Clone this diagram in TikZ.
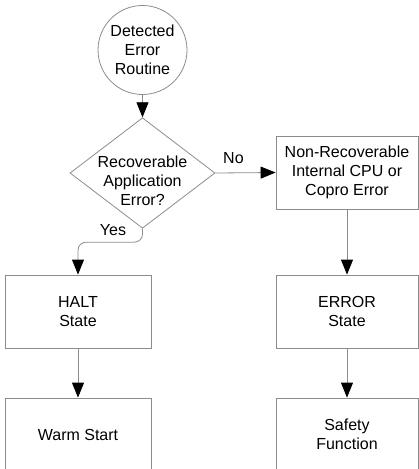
\documentclass[tikz,border=0pt]{standalone}
\usepackage{fontspec}
\setmainfont{Liberation Sans}
\usetikzlibrary{shapes.geometric,arrows.meta}
\definecolor{linegray}{HTML}{8C8C8C}
\begin{document}
\begin{tikzpicture}[
  x=1pt, y=-1pt,
  font=\fontsize{16}{19}\selectfont,
  every node/.style={align=center, inner sep=0pt},
  box/.style={draw=linegray, line width=0.8pt, minimum width=146pt, minimum height=73pt},
  arrow/.style={draw=linegray, line width=0.8pt, -{Triangle[length=15pt,width=12pt,black]}}
]
\useasboundingbox (0,0) rectangle (419,469);
\node (start) [circle, draw=linegray, line width=0.8pt, minimum size=89pt] at (142.5,50) {Detected\\Error\\Routine};
\node (decide) [diamond, draw=linegray, line width=0.8pt, minimum width=145pt, minimum height=110.5pt,
  label={[yshift=-8pt]center:Recoverable\\Application\\Error?}] at (142.5,173) {};
\node (nonrec) [box, minimum width=142pt] at (347,172.5) {Non-Recoverable\\Internal CPU or\\Copro Error};
\node (errst) [box, minimum width=142pt] at (347,311.5) {ERROR\\State};
\node (safety) [box, minimum width=142pt] at (347,434.5) {Safety\\Function};
\node (halt) [box] at (78,311.5) {HALT\\State};
\node (warm) [box] at (78,434.5) {Warm Start};
\draw[arrow] (start) -- (decide);
\draw[arrow] (decide.east) -- node[anchor=south, pos=0.3, yshift=9pt] {No} (nonrec.west);
\draw[arrow, rounded corners=8pt] (decide.south) -- node[anchor=east, xshift=-16pt, yshift=5pt] {Yes} ++(0,13.5) -| (halt.north);
\draw[arrow] (halt) -- (warm);
\draw[arrow] (nonrec) -- (errst);
\draw[arrow] (errst) -- (safety);
\end{tikzpicture}
\end{document}
